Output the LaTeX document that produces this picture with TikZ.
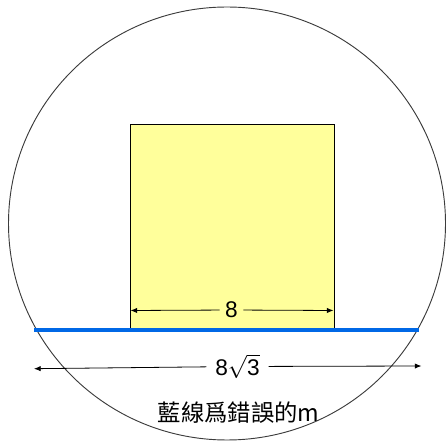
\documentclass[tikz,border=0pt]{standalone}
\usepackage{fontspec}
\setmainfont{Liberation Sans}
\newfontfamily\cjk{Noto Sans CJK TC}
\usepackage{tikz}
\usetikzlibrary{arrows.meta,positioning}
\definecolor{myyellow}{RGB}{255,255,155}
\definecolor{myblue}{RGB}{0,104,230}
\definecolor{mygray}{RGB}{60,60,60}
\tikzset{
  dimline/.style={-{Latex[length=5pt,width=4pt]}, line width=0.6pt},
}

\begin{document}
\begin{tikzpicture}[x=0.75pt, y=-0.75pt, font=\fontsize{17}{19}\selectfont]
  \useasboundingbox (0,0) rectangle (446,441);

  % Circle
  \draw[mygray, line width=0.7pt] (227,223.5) ellipse [x radius=218.5, y radius=216.5];

  % Square
  \node (sq) [draw, fill=myyellow, line width=0.75pt, inner sep=0pt,
              minimum width=153pt, minimum height=153.75pt] at (232,227.5) {};

  % Blue line
  \coordinate (bl) at (34,330);
  \coordinate (br) at (419,330);
  \draw[myblue, line width=2.4pt] (bl) -- (br);

  % Side of square
  \coordinate (al) at (130.5,310.5);
  \coordinate (ar) at (333.5,310.5);
  \node (side) [inner sep=4pt] at (231.5,310) {8};
  \draw[dimline] (side) -- (al);
  \draw[dimline] (side) -- (ar);

  % Wrong chord
  \coordinate (cl) at (34,368.7);
  \coordinate (cr) at (421.5,366);
  \node (chord) [inner sep=6.5pt] at (237.5,366.5) {8$\sqrt{\mbox{3}}$};
  \draw[dimline] (chord) -- (cl);
  \draw[dimline] (chord) -- (cr);

  % Caption
  \node (cap) [font=\fontsize{17.5}{19}\selectfont] at (238.5,412.5) {\cjk 藍線爲錯誤的m};
\end{tikzpicture}
\end{document}
